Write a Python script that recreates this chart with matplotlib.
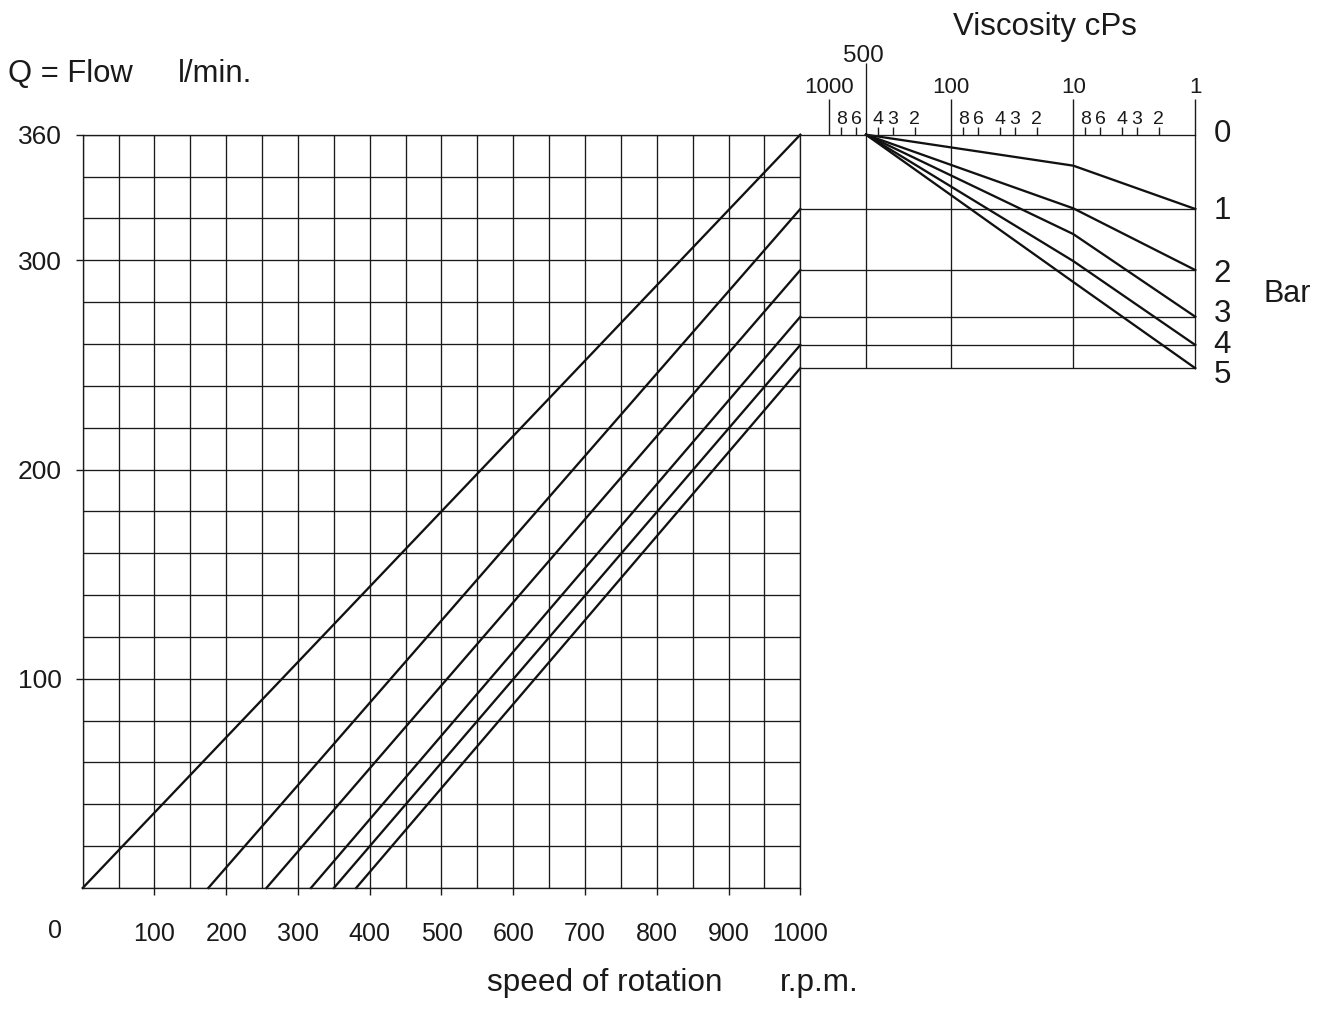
import matplotlib
matplotlib.use('Agg')
import matplotlib.pyplot as plt
from matplotlib import font_manager

# --- chart values ---
speed_ticks = [100, 200, 300, 400, 500, 600, 700, 800, 900, 1000]
flow_ticks = [100, 200, 300, 360]

# pump lines: start speed (r.p.m.) at Q = 0 and flow (l/min) at 1000 r.p.m.
bar_labels = ['0', '1', '2', '3', '4', '5']
start_rpm = [0, 175, 256, 318, 350, 381]
flow_at_1000 = [360, 324.5, 295.3, 273.0, 259.5, 248.4]

# viscosity correction curves (one per pressure 1..5 bar)
visc_points = [500, 10, 1]
visc_flow = [
    [360, 345.2, 324.5],
    [360, 324.8, 295.3],
    [360, 312.5, 273.0],
    [360, 299.6, 259.5],
    [360, 289.6, 248.4],
]
visc_major = [1000, 100, 10, 1]
visc_major_labels = ['1000', '100', '10', '1']
visc_minor = [800, 600, 400, 300, 200, 80, 60, 40, 30, 20, 8, 6, 4, 3, 2]
visc_minor_labels = ['8', '6', '4', '3', '2'] * 3


def pick_font(names):
    for name in names:
        try:
            font_manager.findfont(font_manager.FontProperties(family=name),
                                  fallback_to_default=False)
            return name
        except ValueError:
            pass
    return 'DejaVu Sans'


cad = pick_font(['Liberation Sans Narrow', 'Liberation Sans'])
sans = pick_font(['Liberation Sans', 'DejaVu Sans'])

INK = '#1a1a1a'
W, H = 1322, 1010
PT = 72 / 100  # points per pixel at dpi 100

fig = plt.figure(figsize=(W / 100, H / 100), dpi=100)

# plot frame in pixels
L, R, T, B = 82.7, 800.3, 134.7, 888
R2 = 1195.3

# --- left panel: flow vs speed ---
ax1 = fig.add_axes([L / W, 1 - B / H, (R - L) / W, (B - T) / H])
ax1.set_xlim(0, 1000)
ax1.set_ylim(0, 360)
ax1.set_xticks(speed_ticks, [str(v) for v in speed_ticks], family=cad, fontsize=18, color=INK)
ax1.set_xticks(range(0, 1001, 50), minor=True)
ax1.set_yticks(flow_ticks, [str(v) for v in flow_ticks], family=sans, fontsize=19, color=INK)
ax1.set_yticks(range(0, 361, 20), minor=True)
ax1.tick_params(axis='x', which='major', length=7 * PT, width=1, color=INK, pad=27 * PT)
ax1.tick_params(axis='y', which='major', length=7 * PT, width=1, color=INK, pad=14.3 * PT)
ax1.tick_params(which='minor', length=0)
ax1.grid(which='both', color=INK, linewidth=0.95)
for sp in ax1.spines.values():
    sp.set_color(INK)
    sp.set_linewidth(0.95)

for s, q in zip(start_rpm, flow_at_1000):
    ax1.plot([s, 1000], [0, q], color='#111111', linewidth=1.65, clip_on=False)

ax1.annotate('0', xy=(0, 0), xytext=(-28 * PT, -43.5 * PT), textcoords='offset points',
             ha='center', va='center', family=cad, fontsize=18, color=INK)

# --- right panel: viscosity correction ---
ax2 = fig.add_axes([R / W, 1 - B / H, (R2 - R) / W, (B - T) / H])
ax2.set_xscale('log')
ax2.set_xlim(10 ** (3 + (829.3 - R) / 122.0), 1)
ax2.set_ylim(0, 360)
ax2.set_facecolor('none')
for side in ['left', 'right', 'bottom']:
    ax2.spines[side].set_visible(False)
ax2.spines['top'].set_color(INK)
ax2.spines['top'].set_linewidth(0.95)
ax2.set_yticks([])

ax2.set_xticks(visc_major, visc_major_labels, family=cad, fontsize=16, color=INK)
ax2.set_xticks(visc_minor, visc_minor_labels, minor=True, family=cad, fontsize=14, color=INK)
ax2.xaxis.set_ticks_position('top')
ax2.tick_params(axis='x', which='major', top=True, bottom=False, labeltop=True,
                labelbottom=False, length=36 * PT, width=1, color=INK, pad=0.5)
ax2.tick_params(axis='x', which='minor', top=True, bottom=False, labeltop=True,
                labelbottom=False, length=8 * PT, width=1, color=INK, pad=-1.2)

x_left = ax2.get_xlim()[0]
ax2.hlines(flow_at_1000[1:], x_left, 1, color=INK, linewidth=0.95, clip_on=False)
ax2.vlines([500, 100, 10, 1], flow_at_1000[-1], 360, color=INK, linewidth=0.95, clip_on=False)
ax2.vlines(500, 360, 360 + 72 / ((B - T) / 360), color=INK, linewidth=0.95, clip_on=False)
ax2.annotate('500', xy=(500, 360), xytext=(-2.5 * PT, 73 * PT), textcoords='offset points',
             ha='center', va='baseline', family=cad, fontsize=17.5, color=INK)

for flows in visc_flow:
    ax2.plot(visc_points, flows, color='#111111', linewidth=1.65, clip_on=False)

# bar labels at the right end of each level line
label_drop = [7, 10.3, 11.7, 5, 8.3, 15]
for lbl, q, d in zip(bar_labels, flow_at_1000, label_drop):
    ax2.annotate(lbl, xy=(1, q), xytext=(26.7 * PT, -d * PT), textcoords='offset points',
                 ha='center', va='baseline', family=cad, fontsize=22.5, color=INK)

# --- titles ---
fig.text(1263 / W, 1 - 301.7 / H, 'Bar', family=cad, fontsize=22, color=INK, va='baseline')
fig.text(8 / W, 1 - 82.5 / H, 'Q = Flow', family=sans, fontsize=22.3, color=INK, va='baseline')
fig.text(178 / W, 1 - 82.5 / H, 'l/min.', family=sans, fontsize=22.3, color=INK, va='baseline')
fig.text(487 / W, 1 - 991 / H, 'speed of rotation', family=sans, fontsize=22.7, color=INK, va='baseline')
fig.text(780 / W, 1 - 991 / H, 'r.p.m.', family=sans, fontsize=22.7, color=INK, va='baseline')
fig.text(953 / W, 1 - 35 / H, 'Viscosity cPs', family=sans, fontsize=22.5, color=INK, va='baseline')

fig.savefig('out.png', dpi=100)
plt.close(fig)
